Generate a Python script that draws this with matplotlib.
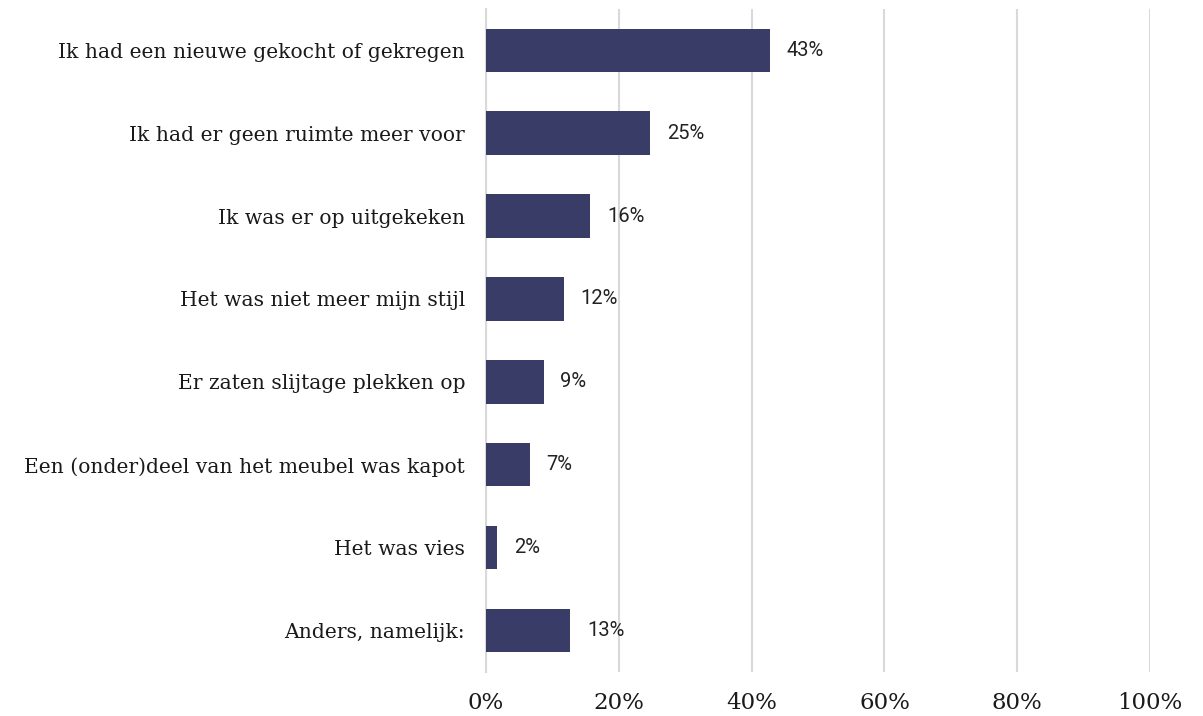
import numpy as np
import matplotlib.pyplot as plt

# redenen (van boven naar beneden)
categories = [
    "Ik had een nieuwe gekocht of gekregen",
    "Ik had er geen ruimte meer voor",
    "Ik was er op uitgekeken",
    "Het was niet meer mijn stijl",
    "Er zaten slijtage plekken op",
    "Een (onder)deel van het meubel was kapot",
    "Het was vies",
    "Anders, namelijk:",
]
values = [42.7, 24.7, 15.7, 11.7, 8.7, 6.6, 1.7, 12.7]
labels = ["43%", "25%", "16%", "12%", "9%", "7%", "2%", "13%"]
xticks = [0, 20, 40, 60, 80, 100]

fig = plt.figure(figsize=(12.03, 7.16), dpi=100)
ax = fig.add_axes([0.404, 0.061, 0.552, 0.927])

y = np.arange(len(categories))
bars = ax.barh(y, values, height=0.52, color="#383C66", zorder=3)

for b, lab in zip(bars, labels):
    ax.annotate(lab, (b.get_width(), b.get_y() + b.get_height() / 2),
                xytext=(12, 0), textcoords="offset points", va="center", ha="left",
                fontsize=14.5, family="Roboto", color="#222222")

ax.set_ylim(len(categories) - 0.5, -0.5)
ax.set_xlim(0, 100)
ax.set_yticks(y)
ax.set_yticklabels(categories, family="DejaVu Serif", fontsize=14.6, color="#1a1a1a")
ax.set_xticks(xticks)
ax.set_xticklabels([f"{t}%" for t in xticks], family="DejaVu Serif", fontsize=16.5, color="#1a1a1a")
ax.tick_params(axis="both", length=0)
ax.tick_params(axis="y", pad=15)
ax.tick_params(axis="x", pad=14)

ax.grid(axis="x", color="#D9D9D9", lw=1.5, zorder=0)
for s in ["top", "right", "bottom"]:
    ax.spines[s].set_visible(False)
ax.spines["left"].set_color("#D9D9D9")
ax.spines["left"].set_linewidth(1.5)

fig.savefig("out.png", dpi=100)
